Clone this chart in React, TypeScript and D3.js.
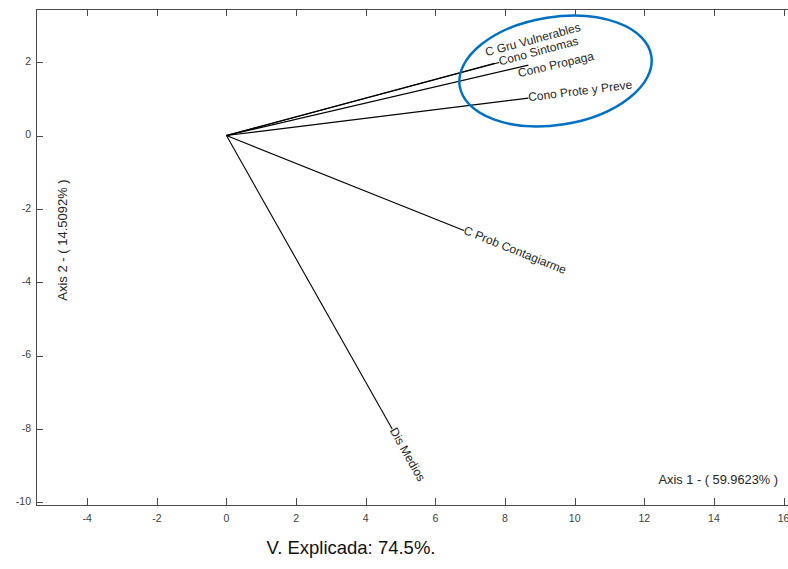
import React from "react";
import * as d3 from "d3";

const variables = [
  "C Gru Vulnerables",
  "Cono Sintomas",
  "Cono Propaga",
  "Cono Prote y Preve",
  "C Prob Contagiarme",
  "Dis Medios",
];
const axis1 = [7.7, 7.83, 8.67, 8.67, 6.82, 4.76];
const axis2 = [1.97, 1.99, 1.92, 1.02, -2.59, -8.0];
// manual label nudges (px) as in the original figure
const labelDx = [-9, 0, -10, 0, 0, 0];
const labelDy = [-10, 0, 9, 0, 0, 0];

const xTicks = [-4, -2, 0, 2, 4, 6, 8, 10, 12, 14, 16];
const yTicks = [-10, -8, -6, -4, -2, 0, 2];
const xLabel = "Axis 1 - ( 59.9623% )";
const yLabel = "Axis 2 - ( 14.5092% )";
const caption = "V. Explicada: 74.5%.";

// highlight ellipse (data centre)
const ellipseCenter = [9.45, 1.76];

const W = 788;
const H = 569;
const left = 36;
const top = 9;
const bottom = 505;
const right = 801;

const FONT = "'Liberation Sans', Arial, Helvetica, sans-serif";

export default function App() {
  const x = d3.scaleLinear().domain([-5.47, 16.5]).range([left, right]);
  const y = d3.scaleLinear().domain([-10.07, 3.45]).range([bottom, top]);
  const axisColor = "#4a4a4a";
  const tickLen = 7;

  return (
    <svg
      width={W}
      height={H}
      style={{ position: "absolute", left: 0, top: 0, background: "#fff" }}
      fontFamily={FONT}
    >
      <rect x={0} y={0} width={W} height={H} fill="#fff" />
      {/* frame */}
      <line x1={left + 0.5} x2={left + 0.5} y1={top} y2={bottom} stroke={axisColor} strokeWidth={1} />
      <line x1={left} x2={W} y1={top + 0.5} y2={top + 0.5} stroke={axisColor} strokeWidth={1} />
      <line x1={left} x2={W} y1={bottom + 0.5} y2={bottom + 0.5} stroke={axisColor} strokeWidth={1} />

      {/* x ticks */}
      {xTicks.map((t) => {
        const px = Math.round(x(t)) + 0.5;
        return (
          <g key={"x" + t}>
            <line x1={px} x2={px} y1={bottom} y2={bottom - tickLen} stroke={axisColor} />
            <line x1={px} x2={px} y1={top} y2={top + tickLen} stroke={axisColor} />
            <text
              x={x(t)}
              y={519}
              textAnchor="middle"
              dominantBaseline="middle"
              fontSize={10.5}
              fill="#404040"
            >
              {t}
            </text>
          </g>
        );
      })}

      {/* y ticks */}
      {yTicks.map((t) => {
        const py = Math.round(y(t)) + 0.5;
        return (
          <g key={"y" + t}>
            <line x1={left} x2={left + tickLen} y1={py} y2={py} stroke={axisColor} />
            <text
              x={31}
              y={y(t)}
              textAnchor="end"
              dominantBaseline="middle"
              fontSize={10.5}
              fill="#404040"
            >
              {t}
            </text>
          </g>
        );
      })}

      {/* vectors */}
      {variables.map((name, i) => {
        const x0 = x(0);
        const y0 = y(0);
        const x1 = x(axis1[i]);
        const y1 = y(axis2[i]);
        const ang = (Math.atan2(y1 - y0, x1 - x0) * 180) / Math.PI;
        const lx = x1 + labelDx[i];
        const ly = y1 + labelDy[i];
        return (
          <g key={name}>
            <line x1={x0} y1={y0} x2={x1} y2={y1} stroke="#000" strokeWidth={1.1} />
            <text
              x={lx}
              y={ly}
              transform={`rotate(${ang} ${lx} ${ly})`}
              dominantBaseline="middle"
              fontSize={12}
              fill="#262626"
            >
              {name}
            </text>
          </g>
        );
      })}

      {/* axis labels */}
      <text x={778} y={481} textAnchor="end" dominantBaseline="middle" fontSize={12.8} fill="#262626">
        {xLabel}
      </text>
      <text
        x={64}
        y={240}
        transform={`rotate(-90 64 240)`}
        textAnchor="middle"
        dominantBaseline="middle"
        fontSize={13}
        fill="#262626"
      >
        {yLabel}
      </text>

      {/* highlight ellipse */}
      <ellipse
        cx={x(ellipseCenter[0])}
        cy={y(ellipseCenter[1])}
        rx={97}
        ry={54}
        transform={`rotate(-9 ${x(ellipseCenter[0])} ${y(ellipseCenter[1])})`}
        fill="none"
        stroke="#0070C0"
        strokeWidth={2.5}
      />

      {/* caption */}
      <text x={351} y={549} textAnchor="middle" dominantBaseline="middle" fontSize={18.5} fill="#111">
        {caption}
      </text>
    </svg>
  );
}
